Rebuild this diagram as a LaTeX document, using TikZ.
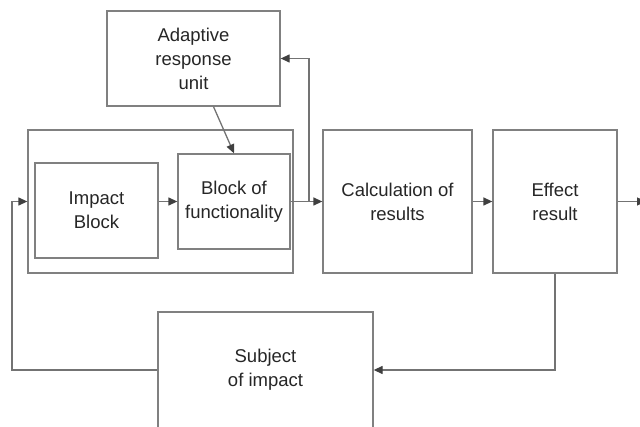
\documentclass[tikz,border=0pt]{standalone}
\usepackage{fontspec}
\setmainfont{Liberation Sans}
\usetikzlibrary{arrows.meta}

\tikzstyle{block}=[draw=black!50,line width=1.3pt,align=center,text=black!85,font=\fontsize{18.5}{24}\selectfont,inner sep=0pt]
\tikzstyle{edge} = [draw,line width=1.3pt,black!55,-{Triangle[length=9pt,width=8pt,color=black!75]}]
\tikzstyle{line} = [draw,line width=1.3pt,black!55]

\begin{document}
\begin{tikzpicture}[x=1pt,y=-1pt]
     \clip (0,0) rectangle (640,427);
     % The frame round the two inner blocks
     \node[block,minimum width=265pt,minimum height=143pt] (frame) at (160.5,201.5) {};
     % Then the blocks, each with its own size
     \foreach \pos/\w/\h/\name/\txt in {{(193.5,58.5)/173/95/adapt/Adaptive\\response\\unit},
       {(96.5,210.5)/123/95/impact/Impact\\Block}, {(234,201.5)/112/95/func/Block of\\functionality},
       {(397.5,201.5)/149/143/calc/Calculation of\\results}, {(555,201.5)/124/143/effect/Effect\\result},
       {(265.5,370)/215/116/subject/Subject\\of impact}}
     \node[block,minimum width=\w pt,minimum height=\h pt] (\name) at \pos {\txt};

     % Connect the blocks
     \path[edge] (impact.east |- func.west) -- (func.west);
     \path[edge] ([xshift=20pt]adapt.south) -- (func.north);
     \path[edge] (func.east) -- (calc.west) coordinate[pos=0.58] (split);
     \path[edge] (split) |- (adapt.east);
     \path[edge] (calc.east) -- (effect.west);
     \coordinate (exit) at (646,201.5);
     \path[edge] (effect.east) -- (exit);
     % Feedback loops underneath
     \path[edge] (effect.south) |- (subject.east);
     \coordinate (back) at (12,370);
     \path[edge] (subject.west) -- (back) |- (frame.west);
\end{tikzpicture}
\end{document}
